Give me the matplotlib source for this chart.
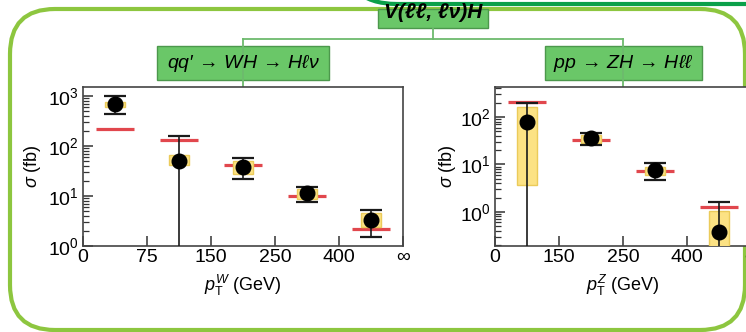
import matplotlib
matplotlib.use("Agg")
import matplotlib.pyplot as plt
from matplotlib.patches import FancyBboxPatch, Rectangle
import numpy as np

plt.rcParams['font.family'] = ['Liberation Sans', 'DejaVu Sans']
plt.rcParams['mathtext.fontset'] = 'custom'
plt.rcParams['mathtext.rm'] = 'Liberation Sans'
plt.rcParams['mathtext.it'] = 'Liberation Sans:italic'
plt.rcParams['mathtext.bf'] = 'Liberation Sans:bold'

# ---- WH channel: bins in p_T^W ----
wh_edges = ['0', '75', '150', '250', '400', '∞']
wh_meas = [690, 50, 38, 11.5, 3.3]
wh_tot_hi = [1000, 160, 58, 15, 5.2]
wh_tot_lo = [440, 0.5, 22, 7.6, 1.5]
wh_stat_hi = [760, 66, 50, 13.8, 4.6]
wh_stat_lo = [600, 42, 27.5, 8.7, 2.4]
wh_pred = [220, 132, 42, 10, 2.2]

# ---- ZH channel: bins in p_T^Z ----
zh_edges = ['0', '150', '250', '400', '∞']
zh_meas = [78, 36, 7.65, 0.38]
zh_tot_hi = [195, 46, 10.8, 1.6]
zh_tot_lo = [0.1, 26, 4.7, 0.1]
zh_stat_hi = [162, 41.5, 8.9, 1.05]
zh_stat_lo = [3.7, 28, 6.0, 0.1]
zh_pred = [207, 33, 7.3, 1.25]

W, H = 746, 332
fig = plt.figure(figsize=(W / 100, H / 100), dpi=100)


def px_rect(x0, y0, x1, y1):
    return [x0 / W, 1 - y1 / H, (x1 - x0) / W, (y1 - y0) / H]


# ---- decoration layer in pixel coordinates ----
bg = fig.add_axes([0, 0, 1, 1], zorder=0)
bg.set_xlim(0, W)
bg.set_ylim(H, 0)
bg.axis('off')

light_green = '#8DC63F'
dark_green = '#0BA04A'
box_fill = '#6AC768'
box_edge = '#4C984C'
conn = '#6DBA6D'

bg.add_patch(FancyBboxPatch((10, 9), 735, 321,
                            boxstyle="round,pad=0,rounding_size=45",
                            fc='none', ec=light_green, lw=3.0))
bg.add_patch(FancyBboxPatch((342, -120), 500, 124,
                            boxstyle="round,pad=0,rounding_size=55",
                            fc='none', ec=dark_green, lw=3.0))

# connectors of the tree
bg.plot([433, 433], [28, 39], color=conn, lw=1.3)
bg.plot([243, 623], [39, 39], color=conn, lw=1.3)
bg.plot([243, 243], [39, 88], color=conn, lw=1.3)
bg.plot([623, 623], [39, 88], color=conn, lw=1.3)

top_box = Rectangle((378, 9), 110, 19, fc=box_fill, ec=box_edge, lw=1.0)
bg.add_patch(top_box)
t = bg.text(433, 13, 'V(ℓℓ, ℓν)H', ha='center', va='center', fontsize=15,
            style='italic', weight='bold')
t.set_clip_path(top_box)

for (x0, x1, label) in [(157, 329, r"qq′$\,\rightarrow\,$WH$\,\rightarrow\,$Hℓν"),
                        (545, 702, r"pp$\,\rightarrow\,$ZH$\,\rightarrow\,$Hℓℓ")]:
    bg.add_patch(Rectangle((x0, 46), x1 - x0, 34, fc=box_fill, ec=box_edge, lw=1.0))
    bg.text((x0 + x1) / 2, 63, label, ha='center', va='center',
            fontsize=14, style='italic')


def draw_panel(ax, edges, meas, tot_hi, tot_lo, st_hi, st_lo, pred, ylim, xlab):
    n = len(meas)
    xc = np.arange(n) + 0.5
    meas = np.array(meas, float)
    tot_hi = np.array(tot_hi, float)
    tot_lo = np.array(tot_lo, float)
    st_hi = np.array(st_hi, float)
    st_lo = np.array(st_lo, float)

    ax.set_yscale('log')
    ax.hlines(pred, xc - 0.3, xc + 0.3, color='#E1474D', lw=2.3, zorder=2)
    ax.bar(xc, st_hi - st_lo, bottom=st_lo, width=0.31,
           color='#FCE284', edgecolor='#EBCB5A', lw=1.0, zorder=3)
    ax.errorbar(xc, meas, yerr=[meas - tot_lo, tot_hi - meas], fmt='o',
                ms=10.5, mfc='black', mec='black', ecolor='#1a1a1a',
                elinewidth=1.2, capsize=8, capthick=1.6, zorder=4)

    ax.set_xlim(0, n)
    ax.set_ylim(*ylim)
    ax.set_xticks(np.arange(n + 1))
    ax.set_xticklabels(edges)
    ax.tick_params(axis='both', which='major', direction='in', length=7,
                   width=1.1, labelsize=14, color='#333333')
    ax.tick_params(axis='y', which='minor', direction='in', length=4,
                   width=0.9, color='#333333')
    ax.tick_params(axis='x', pad=2)
    ax.tick_params(axis='y', pad=3)
    for s in ax.spines.values():
        s.set_color('#444444')
        s.set_linewidth(1.2)
    ax.set_xlabel(xlab, fontsize=13)
    ax.set_ylabel(r'$\sigma$ (fb)', fontsize=13)


ax1 = fig.add_axes(px_rect(83, 87, 403, 246), zorder=2)
draw_panel(ax1, wh_edges, wh_meas, wh_tot_hi, wh_tot_lo, wh_stat_hi,
           wh_stat_lo, wh_pred, (1, 1500), r'$p_{\mathrm{T}}^{W}$ (GeV)')
ax1.yaxis.set_label_coords(-0.125, 0.5)
ax1.xaxis.set_label_coords(0.5, -0.17)

ax2 = fig.add_axes(px_rect(495, 87, 751, 246), zorder=2)
draw_panel(ax2, zh_edges, zh_meas, zh_tot_hi, zh_tot_lo, zh_stat_hi,
           zh_stat_lo, zh_pred, (0.19, 430), r'$p_{\mathrm{T}}^{Z}$ (GeV)')
ax2.yaxis.set_label_coords(-0.145, 0.5)
ax2.xaxis.set_label_coords(0.5, -0.17)

fig.savefig('out.png', dpi=100)
